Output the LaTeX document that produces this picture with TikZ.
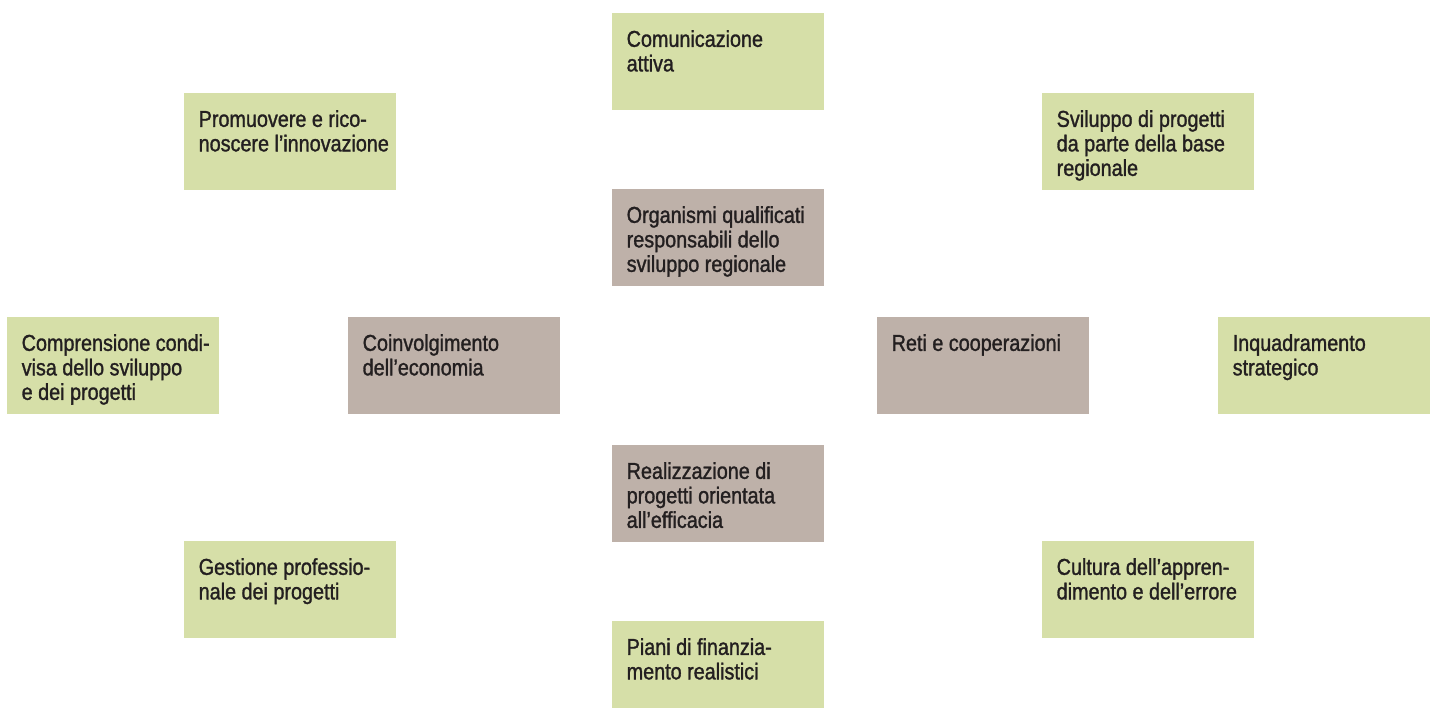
\documentclass[tikz,border=0pt]{standalone}
\usepackage{fontspec}
\setmainfont{Liberation Sans}[FakeStretch=0.86,FakeBold=1.3]
\usepackage{tikz}
\definecolor{leaf}{RGB}{214,223,168}
\definecolor{clay}{RGB}{190,177,169}
\definecolor{ink}{RGB}{35,31,32}
\tikzset{
  panel/.style={rectangle, anchor=north west, inner sep=0pt, minimum width=212pt, minimum height=96.5pt},
  outer/.style={panel, fill=leaf},
  inner/.style={panel, fill=clay},
  caption/.style={anchor=north west, inner sep=0pt, align=left, text=ink, font=\fontsize{23pt}{24.5pt}\selectfont},
}
\begin{document}
\begin{tikzpicture}[x=1pt,y=-1pt]
\def\padx {14.5}
\def\pady {17}
    \useasboundingbox (0,0) rectangle (1437,708);
    % core fields
    \node[inner] (org) at (612,189) {};
    \node[inner] (coinv) at (348,317) {};
    \node[inner] (reti) at (877,317) {};
    \node[inner] (real) at (612,445) {};
    % outer ring
    \node[outer] (kom) at (612,13) {};
    \node[outer] (prom) at (184,93) {};
    \node[outer] (svil) at (1042,93) {};
    \node[outer] (comp) at (7,317) {};
    \node[outer] (inq) at (1218,317) {};
    \node[outer] (gest) at (184,541) {};
    \node[outer] (cult) at (1042,541) {};
    \node[outer, minimum height=87pt] (piani) at (612,621) {};
    % labels
    \node[caption] (orgT) at ([shift={(\padx,\pady)}]org.north west) {Organismi qualificati\\responsabili dello\\sviluppo regionale};
    \node[caption] (coinvT) at ([shift={(\padx,\pady)}]coinv.north west) {Coinvolgimento\\dell’economia};
    \node[caption] (retiT) at ([shift={(\padx,\pady)}]reti.north west) {Reti e cooperazioni};
    \node[caption] (realT) at ([shift={(\padx,\pady)}]real.north west) {Realizzazione di\\progetti orientata\\all’efficacia};
    \node[caption] (komT) at ([shift={(\padx,\pady)}]kom.north west) {Comunicazione\\attiva};
    \node[caption] (promT) at ([shift={(\padx,\pady)}]prom.north west) {Promuovere e rico-\\noscere l’innovazione};
    \node[caption] (svilT) at ([shift={(\padx,\pady)}]svil.north west) {Sviluppo di progetti\\da parte della base\\regionale};
    \node[caption] (compT) at ([shift={(\padx,\pady)}]comp.north west) {Comprensione condi-\\visa dello sviluppo\\e dei progetti};
    \node[caption] (inqT) at ([shift={(\padx,\pady)}]inq.north west) {Inquadramento\\strategico};
    \node[caption] (gestT) at ([shift={(\padx,\pady)}]gest.north west) {Gestione professio-\\nale dei progetti};
    \node[caption] (cultT) at ([shift={(\padx,\pady)}]cult.north west) {Cultura dell’appren-\\dimento e dell’errore};
    \node[caption] (pianiT) at ([shift={(\padx,\pady)}]piani.north west) {Piani di finanzia-\\mento realistici};
\end{tikzpicture}
\end{document}
